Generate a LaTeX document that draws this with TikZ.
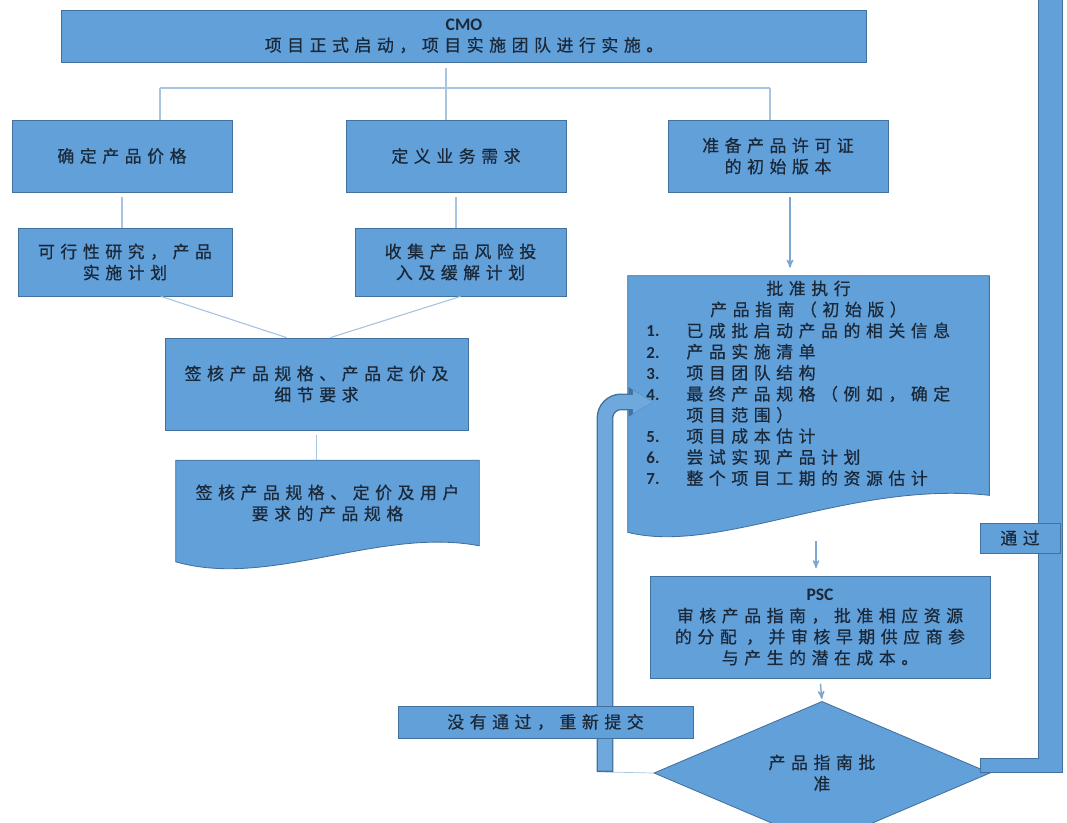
\documentclass[tikz,border=0pt]{standalone}
\usepackage{fontspec}
\usepackage{tikz}
\usetikzlibrary{arrows, arrows.meta, calc, positioning}
\usetikzlibrary{shapes.geometric}
\usetikzlibrary{backgrounds}

\newfontfamily\cjk{Noto Sans CJK SC}[LetterSpace=33, FakeBold=0.6]
\newfontfamily\lat{Carlito}

\definecolor{boxfill}{HTML}{62A0DA}
\definecolor{boxline}{HTML}{41719C}
\definecolor{linkgray}{HTML}{A9C4DE}
\definecolor{arrowblue}{HTML}{7FA7CE}
\definecolor{inkdark}{HTML}{1B2838}

\tikzset{
  txt/.style={text=inkdark, align=center, inner sep=0pt, font=\cjk\fontsize{12}{15}\selectfont},
  box/.style={txt, draw=boxline, fill=boxfill, line width=0.6pt},
  docfill/.style={draw=boxline, fill=boxfill, line width=0.6pt},
  link/.style={draw=linkgray, line width=0.8pt},
  flow/.style={->, >=stealth', draw=arrowblue, line width=1pt},
  fat/.style={draw=boxline, fill=boxfill, line width=0.6pt},
  loopedge/.style={draw=boxline, line width=0.35cm+2pt, rounded corners=0.4cm, -{Triangle[length=0.5cm+3pt, width=0.55cm+4pt]}},
  looparrow/.style={draw=boxfill!92!white, line width=0.35cm, rounded corners=0.4cm, -{Triangle[length=0.5cm, width=0.55cm]}},
}

\begin{document}
\begin{tikzpicture}[x=0.025cm, y=-0.025cm]
\useasboundingbox (0,0) rectangle (1067,823);

% top row
\node(cmo) [box, minimum width=20.1cm, minimum height=1.3cm] at (464,36) {{\lat\bfseries\fontsize{12.5}{15}\selectfont CMO}\\项目正式启动，项目实施团队进行实施。};

\coordinate (split) at (446,88);
\coordinate (busl) at (160,88);
\coordinate (busr) at (770,88);

\node(price) [box, minimum width=5.5cm, minimum height=1.8cm] at (122,156) {确定产品价格};
\node(biz) [box, minimum width=5.5cm, minimum height=1.8cm] at (456,156) {定义业务需求};
\node(lic) [box, minimum width=5.5cm, minimum height=1.8cm] at (778,156) {准备产品许可证\\的初始版本};

\draw[link] ([yshift=-0.15cm]cmo.south -| split) -- (split);
\draw[link] (busl) -- (busr);
\draw[link] (busl) -- (busl |- price.north);
\draw[link] (split) -- (split |- biz.north);
\draw[link] (busr) -- (busr |- lic.north);

% left branch
\node(study) [box, minimum width=5.35cm, minimum height=1.7cm] at (125,262) {可行性研究，产品\\实施计划};
\node(risk) [box, minimum width=5.275cm, minimum height=1.7cm] at (460.5,262) {收集产品风险投\\入及缓解计划};

\draw[link, shorten <=0.12cm] (price.south) -- (price.south |- study.north);
\draw[link, shorten <=0.12cm] (biz.south) -- (biz.south |- risk.north);

\node(sign) [box, minimum width=7.575cm, minimum height=2.3cm] at (316.5,384) {签核产品规格、产品定价及\\细节要求};

\draw[link] ([xshift=0.9cm]study.south) -- ([xshift=-0.75cm]sign.north);
\draw[link] (risk.south) -- ([xshift=0.35cm]sign.north);

\node(spec) [txt, minimum width=7.575cm, minimum height=2.125cm] at (327.5,503) {签核产品规格、定价及用户\\要求的产品规格};
\draw[link, shorten <=0.12cm] (sign.south) -- (sign.south |- spec.north);

% right branch
\node(guide) [txt, minimum width=9.025cm, minimum height=5.475cm] at (808.5,385.5) {%
  \begin{tabular}{@{}p{1cm}@{}p{7.1cm}@{}}
  \multicolumn{2}{@{}c@{}}{批准执行}\\
  \multicolumn{2}{@{}c@{}}{产品指南（初始版）}\\
  {\lat\bfseries 1.} & 已成批启动产品的相关信息\\
  {\lat\bfseries 2.} & 产品实施清单\\
  {\lat\bfseries 3.} & 项目团队结构\\
  {\lat\bfseries 4.} & 最终产品规格（例如，确定\\
   & 项目范围）\\
  {\lat\bfseries 5.} & 项目成本估计\\
  {\lat\bfseries 6.} & 尝试实现产品计划\\
  {\lat\bfseries 7.} & 整个项目工期的资源估计
  \end{tabular}};

\coordinate (licout) at ([xshift=0.3cm, yshift=-0.12cm]lic.south);
\draw[flow, shorten >=0.2cm] (licout) -- (licout |- guide.north);

\node(psc) [box, minimum width=8.5cm, minimum height=2.55cm] at (820,627.5) {{\lat\bfseries\fontsize{12.5}{15}\selectfont PSC}\\审核产品指南，批准相应资源\\的分配 ，并审核早期供应商参\\与产生的潜在成本。};

\coordinate (gout) at (816,541);
\draw[flow, shorten >=0.2cm] (gout) -- (gout |- psc.north);

\node(ok) [box, diamond, minimum width=8.4cm, minimum height=2.5cm] at (822,773) {产品指南批\\准};
\draw[flow, shorten <=0.12cm, shorten >=0.05cm] (psc.south) -- (ok.north);

% document shapes
\begin{scope}[on background layer]
  \filldraw[docfill] (spec.north west) -- (spec.north east) -- (spec.south east)
    .. controls +(-100,-19) and +(94,27) .. ($(spec.south west)+(0,16)$) -- cycle;
  \filldraw[docfill] (guide.north west) -- (guide.north east) -- (guide.south east)
    .. controls +(-140,-15) and +(92,23) .. ($(guide.south west)+(0,37)$) -- cycle;
\end{scope}

% not passed: back to the guide
\coordinate (back) at (605,772);
\coordinate (guidein) at ([xshift=0.63cm, yshift=-0.41cm]guide.west);
\draw[link, line width=0.5pt] (back) -- (ok.west);
\draw[loopedge] (back) |- (guidein);
\draw[looparrow] ([yshift=1pt]back) |- (guidein);

% passed
\draw[fat] ($(ok.east)+(-10,-15)$) -| (1038,-12) -- (1062,-12) |- ($(ok.east)+(-10,-1)$) -- cycle;

\node(fail) [box, minimum width=7.375cm, minimum height=0.8cm] at (545.5,722) {没有通过，重新提交};
\node(pass) [box, minimum width=2cm, minimum height=0.75cm] at (1020,538) {通过};

\end{tikzpicture}
\end{document}
